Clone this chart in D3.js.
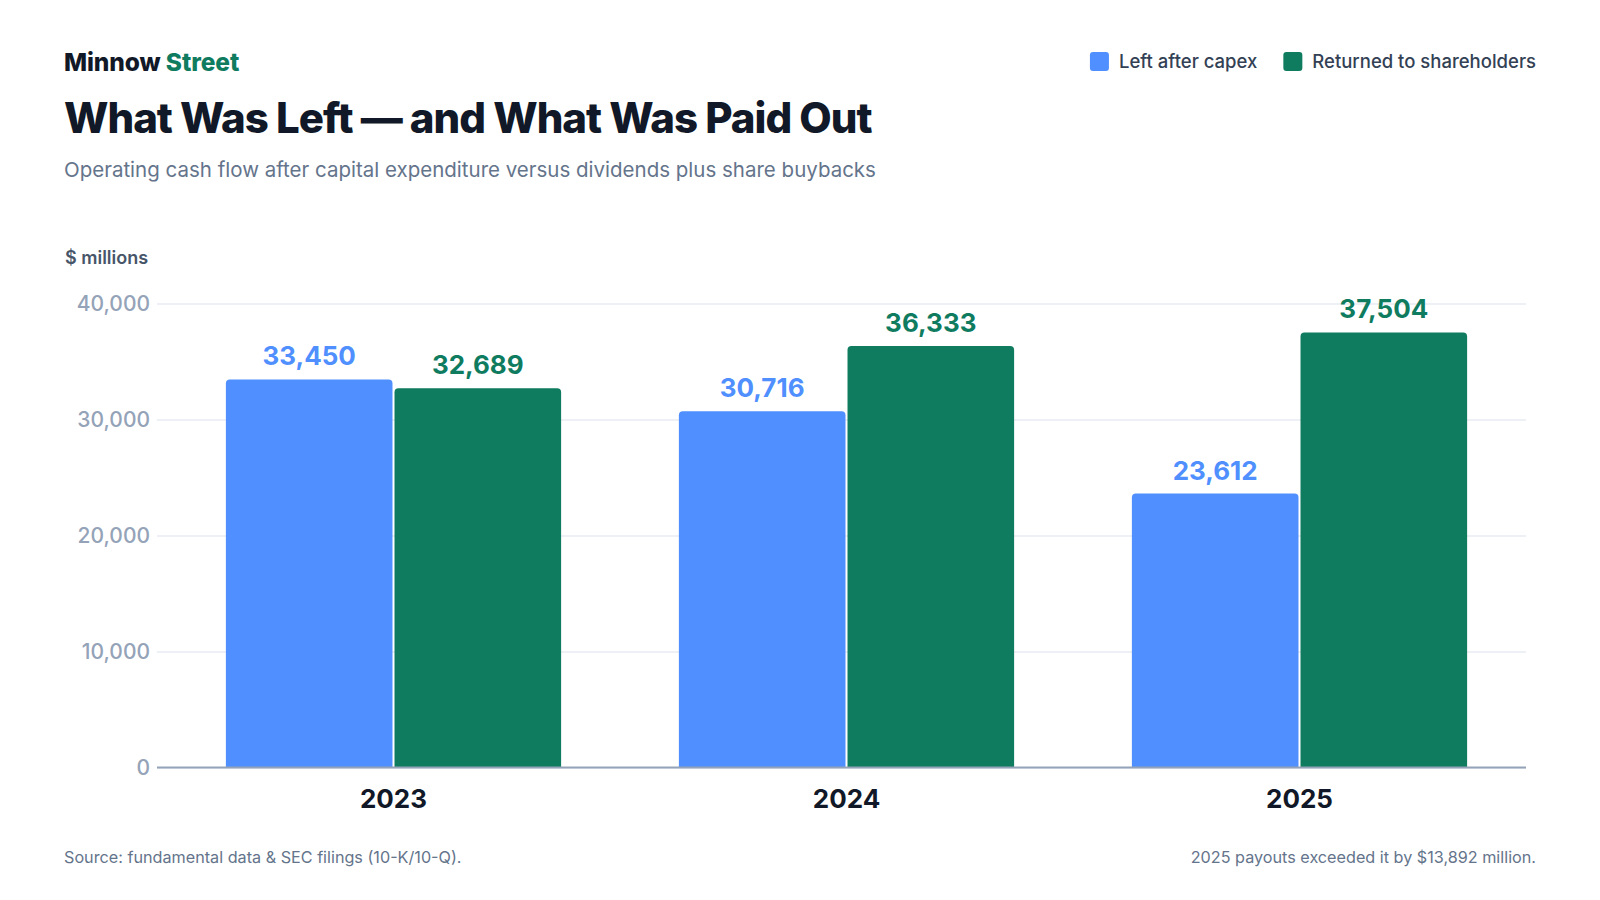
<!DOCTYPE html>
<html>
<head>
<meta charset="utf-8">
<script src="https://cdn.jsdelivr.net/npm/d3@7"></script>
<style>
    html, body { margin: 0; padding: 0; background: #fff; }
    svg { display: block; font-family: Inter, 'Noto Sans', sans-serif; }
</style>
</head>
<body>
<svg id="chart" width="1600" height="900"></svg>
<script>
const years = ['2023', '2024', '2025'];
const seriesNames = ['Left after capex', 'Returned to shareholders'];
const leftAfterCapex = [33450, 30716, 23612];
const returnedToShareholders = [32689, 36333, 37504];
const yTicks = [0, 10000, 20000, 30000, 40000];

const colors = ['#4f8fff', '#0f7b5f'];

const svg = d3.select('#chart');
const plotLeft = 157, plotRight = 1526;
const plotTop = 303.5, plotBottom = 767.5;

// header
const brand = svg.append('text')
    .attr('x', 64).attr('y', 71)
    .attr('font-size', 24.5).attr('font-weight', 800)
    .attr('letter-spacing', -0.1);
brand.append('tspan').attr('fill', '#111827').text('Minnow ');
brand.append('tspan').attr('fill', colors[1]).text('Street');

svg.append('text')
    .attr('x', 64).attr('y', 133)
    .attr('font-size', 42).attr('font-weight', 800)
    .attr('letter-spacing', -1.0)
    .attr('fill', '#111827')
    .text('What Was Left — and What Was Paid Out');

svg.append('text')
    .attr('x', 64).attr('y', 177)
    .attr('font-size', 20.5).attr('fill', '#64748b')
    .text('Operating cash flow after capital expenditure versus dividends plus share buybacks');

// legend, right aligned
const legend = svg.append('g');
let lx = 1536;
for (let i = seriesNames.length - 1; i >= 0; i--) {
    const t = legend.append('text')
        .attr('y', 68)
        .attr('font-size', 18.5).attr('font-weight', 500)
        .attr('fill', '#334155')
        .attr('text-anchor', 'end')
        .attr('x', lx)
        .text(seriesNames[i]);
    const tw = t.node().getComputedTextLength();
    legend.append('rect')
        .attr('x', lx - tw - 10 - 19).attr('y', 52)
        .attr('width', 19).attr('height', 19)
        .attr('rx', 3)
        .attr('fill', colors[i]);
    lx = lx - tw - 10 - 19 - 26;
}

// scales
const x = d3.scaleBand()
    .domain(years)
    .range([167, plotRight])
    .paddingInner(0.26)
    .paddingOuter(0.13);

const xSub = d3.scaleBand()
    .domain(seriesNames)
    .range([0, x.bandwidth()])
    .paddingInner(0.012);

const y = d3.scaleLinear()
    .domain([0, 40000])
    .range([plotBottom, plotTop]);

// unit label
svg.append('text')
    .attr('x', 65).attr('y', 264)
    .attr('font-size', 18).attr('font-weight', 600)
    .attr('fill', '#475569')
    .text('$ millions');

// grid + y axis
const yAxis = d3.axisLeft(y)
    .tickValues(yTicks)
    .tickFormat(d3.format(','))
    .tickSize(-(plotRight - plotLeft))
    .tickPadding(7);

svg.append('g')
    .attr('transform', `translate(${plotLeft},0)`)
    .call(yAxis)
    .call(g => g.select('.domain').remove())
    .call(g => g.selectAll('.tick line').attr('stroke', '#edf0f4').attr('stroke-width', 2))
    .call(g => g.selectAll('.tick text')
        .attr('font-size', 21)
        .attr('font-weight', 500)
        .attr('font-family', 'Inter, sans-serif')
        .attr('fill', '#94a3b8'));

// bars
const rows = years.map((yr, i) => ({
    year: yr,
    values: [leftAfterCapex[i], returnedToShareholders[i]]
}));

const barPath = (x0, y0, bw, bh, r) => {
    return `M${x0},${y0 + bh}V${y0 + r}Q${x0},${y0} ${x0 + r},${y0}` +
        `H${x0 + bw - r}Q${x0 + bw},${y0} ${x0 + bw},${y0 + r}V${y0 + bh}Z`;
};

const groups = svg.append('g')
    .selectAll('g')
    .data(rows)
    .join('g')
    .attr('transform', d => `translate(${x(d.year)},0)`);

groups.selectAll('path')
    .data(d => d.values.map((v, i) => ({name: seriesNames[i], value: v, idx: i})))
    .join('path')
    .attr('d', d => barPath(xSub(d.name), y(d.value), xSub.bandwidth(), plotBottom - y(d.value), 4))
    .attr('fill', d => colors[d.idx]);

groups.selectAll('text.value')
    .data(d => d.values.map((v, i) => ({name: seriesNames[i], value: v, idx: i})))
    .join('text')
    .attr('class', 'value')
    .attr('x', d => xSub(d.name) + xSub.bandwidth() / 2)
    .attr('y', d => y(d.value) - 14)
    .attr('text-anchor', 'middle')
    .attr('font-size', 26).attr('font-weight', 700)
    .attr('fill', d => colors[d.idx])
    .text(d => d3.format(',')(d.value));

// baseline
svg.append('line')
    .attr('x1', plotLeft).attr('x2', plotRight)
    .attr('y1', plotBottom).attr('y2', plotBottom)
    .attr('stroke', '#94a3b8').attr('stroke-width', 2);

// x axis labels
svg.append('g')
    .selectAll('text')
    .data(years)
    .join('text')
    .attr('x', d => x(d) + x.bandwidth() / 2)
    .attr('y', 808)
    .attr('text-anchor', 'middle')
    .attr('font-size', 26).attr('font-weight', 700)
    .attr('fill', '#111827')
    .text(d => d);

// footer
svg.append('text')
    .attr('x', 64).attr('y', 863)
    .attr('font-size', 16.2).attr('fill', '#64748b')
    .text('Source: fundamental data & SEC filings (10-K/10-Q).');

svg.append('text')
    .attr('x', 1536).attr('y', 863)
    .attr('text-anchor', 'end')
    .attr('font-size', 16.2).attr('fill', '#64748b')
    .text('2025 payouts exceeded it by $13,892 million.');
</script>
</body>
</html>
